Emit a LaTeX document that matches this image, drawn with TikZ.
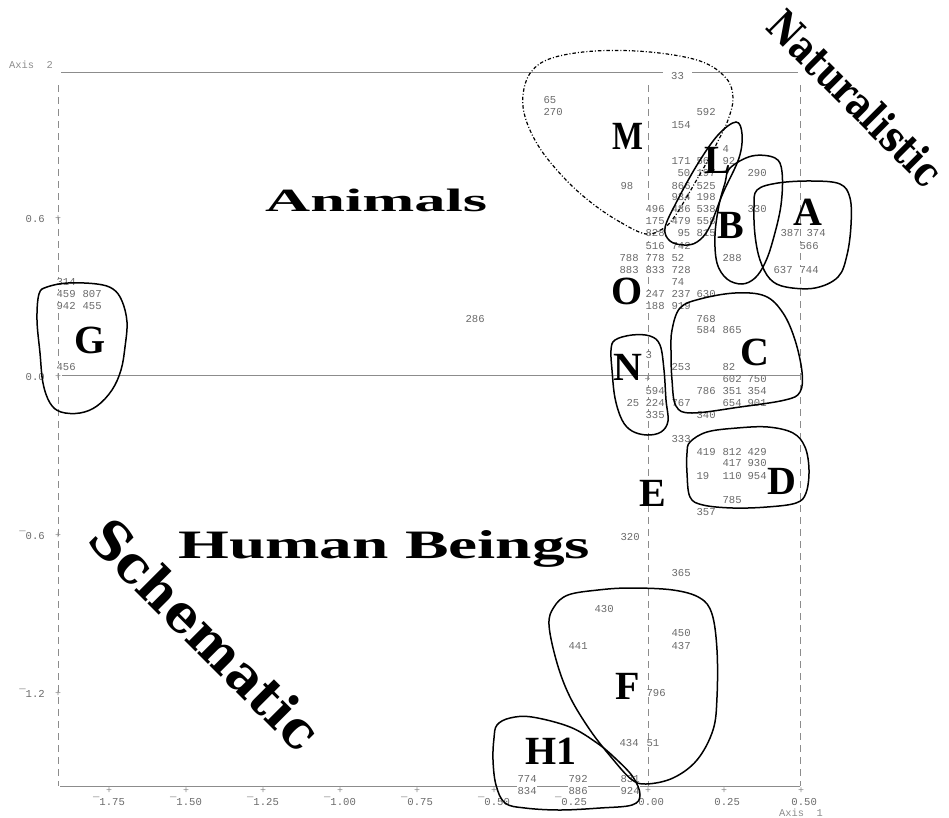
\documentclass[tikz,border=0pt]{standalone}
\usepackage{fontspec}
\setmainfont{Liberation Serif}
\newfontfamily\numfont{Liberation Mono}
\newfontfamily\slabfont{DejaVu Serif}
\definecolor{numgray}{HTML}{6A6A6A}
\definecolor{axgray}{HTML}{8C8C8C}
\begin{document}
\begin{tikzpicture}[x=1pt,y=-1pt,
  numnode/.style={font=\numfont\fontsize{10.6}{12}\selectfont, text=numgray, fill=white, anchor=west, inner xsep=0.4pt, inner ysep=0pt, text height=6.8pt, text depth=0.2pt},
  padnode/.style={numnode, inner ysep=2.6pt},
  ticklab/.style={font=\numfont\fontsize{10.6}{12}\selectfont, text=numgray, inner sep=0pt, text height=6.8pt, text depth=0.2pt},
  plusmark/.style={font=\numfont\fontsize{10}{12}\selectfont, text=axgray, inner sep=0pt},
  axlab/.style={font=\numfont\fontsize{10.4}{12}\selectfont, text=axgray, inner sep=0pt, anchor=west},
  grp/.style={font=\fontsize{40}{42}\selectfont\bfseries, inner sep=0pt, text=black},
  loopline/.style={draw=black, line width=1.5pt},
  mloop/.style={draw=black, line width=1.2pt, dash pattern=on 3.5pt off 2pt on 1pt off 2pt},
  axisline/.style={draw=axgray, line width=0.8pt},
  dashline/.style={axisline, dash pattern=on 7pt off 5pt}
]
\useasboundingbox (0,0) rectangle (949,817);

% frame and axes
\coordinate (tl) at (61,72.7); \coordinate (tr) at (798,72.7);
\draw[axisline] (tl) -- (tr);
\coordinate (bl) at (60,786); \coordinate (br) at (800,786);
\draw[axisline] (bl) -- (br);
\coordinate (zl) at (62,375); \coordinate (zr) at (801,375);
\draw[axisline] (zl) -- (zr);
\foreach \xx [count=\i] in {58,648,800} {
  \coordinate (vt\i) at (\xx,85); \coordinate (vb\i) at (\xx,786);
  \draw[dashline] (vt\i) -- (vb\i);
}

% tick marks and labels
\foreach \xx/\lab [count=\i] in {109/{¯1.75},186/{¯1.50},263/{¯1.25},340/{¯1.00},417/{¯0.75},494/{¯0.50},571/{¯0.25},648/{\hphantom{0}0.00},724/{\hphantom{0}0.25},801/{\hphantom{0}0.50}} {
  \node[plusmark] (bp\i) at (\xx,791) {+};
  \node[ticklab] (bl\i) at (\xx,802) {\lab};
}
\foreach \yy/\lab [count=\i] in {219/{0.6},377/{0.0},536/{¯0.6},694/{¯1.2}} {
  \node[plusmark] (lp\i) at (58,\yy) {+};
  \node[ticklab, anchor=east] (ll\i) at (45,\yy) {\lab};
}
\node[plusmark] (origin) at (647.5,379.5) {+};
\node[axlab] (ax2) at (9,65) {Axis~~2};
\node[axlab] (ax1) at (779,813) {Axis~~1};

% numbers
\node[numnode, inner xsep=8pt, inner ysep=2pt] (n33) at (663,76) {33};
\foreach \xx/\yy/\t [count=\i] in {
  543/100/65, 543/112/270, 696/112/592, 671/125/154, 722/149/4,
  671/161/171, 696/161/56, 722/161/92,
  677/173/50, 696/173/197, 747/173/290,
  620/186/98, 671/186/866, 696/186/525,
  671/197/934, 696/197/198,
  645/209/496, 671/209/486, 696/209/538, 747/209/330,
  645/221/175, 671/221/479, 696/221/558,
  645/233/828, 677/233/95, 696/233/815, 780/233/387, 806/233/374,
  645/246/516, 671/246/742, 799/246/566,
  619/258/788, 645/258/778, 671/258/52, 722/258/288,
  619/270/883, 645/270/833, 671/270/728, 773/270/637, 799/270/744,
  671/282/74,
  645/294/247, 671/294/237, 696/294/630,
  645/306/188, 671/306/919,
  696/319/768, 465/319/286,
  696/330/584, 722/330/865,
  56/282/314, 56/294/459, 82/294/807, 56/306/942, 82/306/455, 56/367/456,
  645/355/3,
  671/367/253, 722/367/82,
  722/379/602, 747/379/750,
  645/391/594, 696/391/786, 722/391/351, 747/391/354,
  626/403/25, 645/403/224, 671/403/767, 722/403/654, 747/403/901,
  645/415/335, 696/415/340,
  671/439/333,
  696/452/419, 722/452/812, 747/452/429,
  722/463/417, 747/463/930,
  696/476/19, 722/476/110, 747/476/954,
  722/500/785, 696/512/357,
  620/537/320, 671/573/365,
  594/609/430, 671/633/450, 568/646/441, 671/646/437,
  646/693/796, 619/743/434, 646/743/51} {
  \node[numnode] (n\i) at (\xx,\yy) {\t};
}
\foreach \xx/\yy/\t [count=\i] in {517/779/774, 568/779/792, 620/779/831, 517/791/834, 568/791/886, 620/791/924} {
  \node[padnode] (h\i) at (\xx,\yy) {\t};
}

% loops
\draw[mloop] plot[smooth cycle, tension=0.6] coordinates {(646,234) (620,222) (593,204) (567,181) (541,150) (526,120) (523,95) (531,72) (552,58) (595,51) (650,52) (700,61) (726,78) (733,98) (728,120) (718,141) (707,162) (696,181) (685,200) (675,216) (664,228)};
\draw[loopline] plot[smooth cycle, tension=0.6] coordinates {(736,122) (742,134) (739,158) (723,193) (709,228) (697,242) (684,245) (670,241) (665,228) (676,203) (697,165) (718,135)};
\draw[loopline] plot[smooth cycle, tension=0.6] coordinates {(730,168) (752,156) (775,158) (782,172) (781,205) (773,240) (765,263) (755,278) (742,284) (727,279) (717,263) (715,235) (719,205) (725,183)};
\draw[loopline] plot[smooth cycle, tension=0.6] coordinates {(757,190) (778,183) (812,181) (840,184) (850,198) (851,225) (847,255) (838,277) (815,288) (786,287) (770,279) (760,260) (755,235) (754,207)};
\draw[loopline] plot[smooth cycle, tension=0.6] coordinates {(672,330) (680,308) (700,299) (735,293) (765,296) (783,313) (795,340) (802,372) (800,392) (785,400) (740,407) (692,413) (676,406) (672,380) (671,352)};
\draw[loopline] plot[smooth cycle, tension=0.6] coordinates {(615,340) (632,335) (650,336) (660,345) (664,370) (666,400) (668,421) (661,432) (647,435) (632,431) (622,420) (615,398) (612,370) (611,350)};
\draw[loopline] plot[smooth cycle, tension=0.6] coordinates {(690,442) (707,432) (737,428) (768,427) (793,433) (805,447) (809,470) (806,493) (796,503) (767,507) (733,508) (703,505) (690,497) (687,473) (687,453)};
\draw[loopline] plot[smooth cycle, tension=0.6] coordinates {(549,625) (554,607) (568,595) (598,590) (630,588) (673,590) (700,598) (712,614) (717,650) (717,697) (713,730) (697,760) (673,778) (646,784) (631,779) (611,757) (590,730) (570,697) (557,663)};
\draw[loopline] plot[smooth cycle, tension=0.6] coordinates {(497,725) (510,718) (532,717) (570,727) (597,743) (615,758) (633,777) (640,795) (632,805) (600,808) (560,810) (525,808) (505,803) (496,785) (493,760) (494,738)};
\draw[loopline] plot[smooth cycle, tension=0.6] coordinates {(39,294) (47,287) (68,283) (97,284) (113,289) (122,301) (127,322) (125,347) (121,370) (112,390) (97,406) (80,413) (61,412) (50,403) (43,383) (40,353) (37,320)};

% group letters
\node[grp] (gM) at (628,136) {\scalebox{0.82}[1]{M}};
\node[grp] (gL) at (718,160) {L};
\node[grp] (gB) at (731,225) {B};
\node[grp] (gA) at (808,212) {A};
\node[grp] (gO) at (627,291) {O};
\node[grp] (gN) at (628,367) {N};
\node[grp] (gC) at (755,352) {C};
\node[grp] (gD) at (782,481) {D};
\node[grp] (gE) at (653,493) {E};
\node[grp] (gF) at (628,686) {F};
\node[grp] (gG) at (90,340) {G};
\node[grp] (gH) at (551,751) {H1};

% big labels
\node[inner sep=0pt, anchor=base west] (animals) at (265,211) {\resizebox{222pt}{22.5pt}{\bfseries Animals}};
\node[inner sep=0pt, anchor=base west] (human) at (178,558) {\resizebox{412pt}{28pt}{\bfseries Human Beings}};
\node[inner sep=0pt, rotate=-45] (natur) at (856,98) {\resizebox{228pt}{32pt}{\slabfont\bfseries Naturalistic}};
\node[inner sep=0pt, rotate=-45] (schem) at (206,634) {\resizebox{302pt}{40pt}{\slabfont\bfseries Schematic}};
\end{tikzpicture}
\end{document}
